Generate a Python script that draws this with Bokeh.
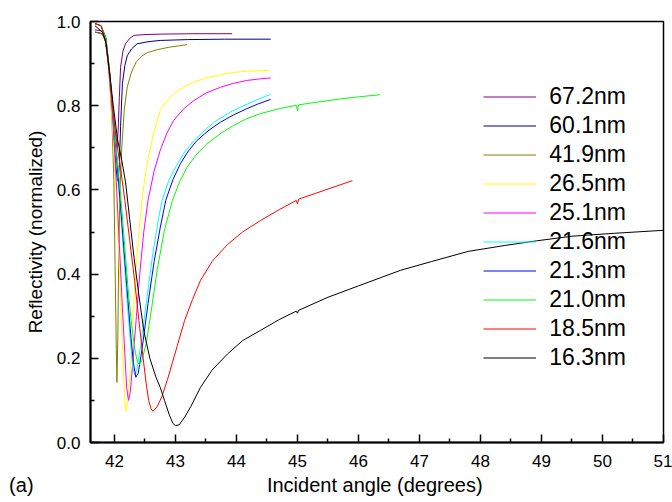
import math
from bokeh.plotting import figure
from bokeh.models import (FixedTicker, PrintfTickFormatter, Legend, LegendItem,
                          Range1d, Title)
from bokeh.embed import file_html
from bokeh.resources import INLINE

# ---------------- data ----------------
series_labels = ["67.2nm", "60.1nm", "41.9nm", "26.5nm", "25.1nm",
                 "21.6nm", "21.3nm", "21.0nm", "18.5nm", "16.3nm"]

x_672 = [41.68, 41.78, 41.84, 41.90, 41.96, 42.01, 42.04, 42.06, 42.08, 42.10,
         42.14, 42.18, 42.25, 42.32, 42.50, 42.75, 43.30, 43.93]
y_672 = [0.980, 0.978, 0.970, 0.910, 0.800, 0.720, 0.700, 0.740, 0.820, 0.891,
         0.930, 0.947, 0.960, 0.967, 0.969, 0.970, 0.971, 0.971]

x_601 = [41.68, 41.78, 41.84, 41.90, 41.95, 42.00, 42.04, 42.06, 42.08, 42.10,
         42.13, 42.17, 42.21, 42.28, 42.37, 42.55, 42.75, 43.20, 43.80, 44.56]
y_601 = [0.975, 0.972, 0.965, 0.900, 0.800, 0.700, 0.630, 0.620, 0.660, 0.750,
         0.852, 0.895, 0.919, 0.935, 0.947, 0.952, 0.955, 0.957, 0.958, 0.958]

x_419 = [41.68, 41.80, 41.86, 41.92, 41.96, 41.99, 42.01, 42.03, 42.04, 42.055,
         42.07, 42.09, 42.12, 42.16, 42.21, 42.28, 42.36, 42.45, 42.54, 42.70,
         42.90, 43.05, 43.19]
y_419 = [0.975, 0.970, 0.950, 0.870, 0.760, 0.620, 0.420, 0.220, 0.143, 0.250,
         0.450, 0.600, 0.700, 0.790, 0.845, 0.880, 0.905, 0.918, 0.926, 0.933,
         0.939, 0.942, 0.945]

x_265 = [41.68, 41.78, 41.86, 41.92, 41.98, 42.03, 42.08, 42.12, 42.15, 42.17,
         42.19, 42.22, 42.27, 42.34, 42.40, 42.45, 42.50, 42.55, 42.64, 42.75,
         42.86, 42.97, 43.13, 43.30, 43.50, 43.74, 43.95, 44.17, 44.56]
y_265 = [0.995, 0.990, 0.960, 0.860, 0.720, 0.580, 0.420, 0.270, 0.160, 0.100,
         0.074, 0.100, 0.200, 0.385, 0.500, 0.575, 0.630, 0.675, 0.733, 0.789,
         0.812, 0.828, 0.844, 0.856, 0.866, 0.874, 0.879, 0.882, 0.884]

x_251 = [41.68, 41.78, 41.86, 41.92, 41.98, 42.03, 42.08, 42.13, 42.17, 42.20,
         42.23, 42.26, 42.30, 42.36, 42.42, 42.48, 42.55, 42.65, 42.75, 42.86,
         42.97, 43.13, 43.30, 43.50, 43.74, 43.95, 44.17, 44.40, 44.56]
y_251 = [0.995, 0.990, 0.960, 0.870, 0.750, 0.620, 0.470, 0.320, 0.210, 0.130,
         0.100, 0.120, 0.190, 0.300, 0.410, 0.500, 0.575, 0.645, 0.694, 0.735,
         0.765, 0.792, 0.812, 0.830, 0.844, 0.853, 0.860, 0.864, 0.866]

x_216 = [41.68, 41.78, 41.86, 41.92, 41.98, 42.03, 42.09, 42.15, 42.21, 42.26,
         42.30, 42.33, 42.37, 42.43, 42.53, 42.63, 42.72, 42.78, 42.89, 43.00,
         43.15, 43.30, 43.50, 43.68, 43.90, 44.12, 44.35, 44.56]
y_216 = [0.995, 0.990, 0.960, 0.880, 0.780, 0.680, 0.570, 0.450, 0.330, 0.240,
         0.180, 0.160, 0.175, 0.230, 0.340, 0.450, 0.530, 0.575, 0.622, 0.654,
         0.690, 0.717, 0.745, 0.765, 0.785, 0.800, 0.815, 0.827]

x_213 = [41.68, 41.78, 41.86, 41.92, 41.98, 42.04, 42.10, 42.16, 42.22, 42.27,
         42.31, 42.35, 42.39, 42.45, 42.55, 42.65, 42.75, 42.84, 42.96, 43.08,
         43.20, 43.35, 43.55, 43.74, 43.95, 44.17, 44.35, 44.56]
y_213 = [0.995, 0.990, 0.960, 0.880, 0.780, 0.670, 0.560, 0.450, 0.340, 0.250,
         0.190, 0.155, 0.165, 0.220, 0.330, 0.430, 0.510, 0.575, 0.625, 0.662,
         0.690, 0.717, 0.742, 0.761, 0.778, 0.793, 0.804, 0.815]

x_210 = [41.68, 41.78, 41.86, 41.92, 41.98, 42.04, 42.10, 42.16, 42.22, 42.28,
         42.34, 42.38, 42.41, 42.45, 42.52, 42.60, 42.70, 42.82, 42.95, 43.07,
         43.19, 43.35, 43.52, 43.75, 43.95, 44.15, 44.39, 44.70, 44.98, 45.00,
         45.02, 45.30, 45.70, 46.00, 46.35]
y_210 = [0.995, 0.990, 0.960, 0.880, 0.780, 0.680, 0.590, 0.480, 0.370, 0.280,
         0.215, 0.190, 0.185, 0.195, 0.235, 0.310, 0.410, 0.505, 0.575, 0.620,
         0.654, 0.685, 0.710, 0.735, 0.753, 0.768, 0.781, 0.793, 0.801, 0.788,
         0.802, 0.808, 0.816, 0.821, 0.826]

x_185 = [41.68, 41.78, 41.86, 41.92, 41.98, 42.05, 42.11, 42.17, 42.25, 42.33,
         42.40, 42.47, 42.52, 42.56, 42.60, 42.63, 42.70, 42.78, 42.87, 42.95,
         43.03, 43.15, 43.28, 43.41, 43.60, 43.85, 44.10, 44.39, 44.70, 44.98,
         45.00, 45.02, 45.30, 45.60, 45.90]
y_185 = [0.995, 0.990, 0.950, 0.870, 0.780, 0.700, 0.640, 0.575, 0.480, 0.385,
         0.290, 0.200, 0.140, 0.100, 0.080, 0.074, 0.085, 0.110, 0.150, 0.190,
         0.230, 0.290, 0.340, 0.385, 0.430, 0.470, 0.500, 0.527, 0.553, 0.575,
         0.567, 0.578, 0.592, 0.607, 0.622]

x_163 = [41.68, 41.80, 41.86, 41.92, 41.98, 42.05, 42.12, 42.18, 42.25, 42.32,
         42.40, 42.48, 42.58, 42.68, 42.75, 42.82, 42.90, 42.96, 43.00, 43.06,
         43.15, 43.25, 43.41, 43.60, 43.85, 44.10, 44.39, 44.70, 44.98, 45.00,
         45.02, 45.50, 46.00, 46.69, 47.20, 47.80, 48.40, 48.92, 49.50, 50.20,
         51.00]
y_163 = [0.990, 0.975, 0.950, 0.880, 0.800, 0.720, 0.670, 0.620, 0.530, 0.440,
         0.350, 0.266, 0.200, 0.155, 0.131, 0.100, 0.065, 0.045, 0.040, 0.042,
         0.060, 0.085, 0.131, 0.172, 0.210, 0.242, 0.266, 0.292, 0.312, 0.307,
         0.314, 0.345, 0.372, 0.409, 0.430, 0.454, 0.468, 0.479, 0.490, 0.497,
         0.504]

x_tick_values = [42, 43, 44, 45, 46, 47, 48, 49, 50, 51]
x_minor_values = [42.5, 43.5, 44.5, 45.5, 46.5, 47.5, 48.5, 49.5, 50.5]
y_tick_values = [0.0, 0.2, 0.4, 0.6, 0.8, 1.0]
y_minor_values = [0.1, 0.3, 0.5, 0.7, 0.9]

x_title = "Incident angle (degrees)"
y_title = "Reflectivity (normalized)"
panel_tag = "(a)"

# ---------------- styles ----------------
line_colors = ["#800080", "#000080", "#808000", "#ffff00", "#ff00ff",
               "#00ffff", "#0000ff", "#00ff00", "#ff0000", "#000000"]
FONT = "Liberation Sans"

xs_all = [x_672, x_601, x_419, x_265, x_251, x_216, x_213, x_210, x_185, x_163]
ys_all = [y_672, y_601, y_419, y_265, y_251, y_216, y_213, y_210, y_185, y_163]

X0, X1 = 41.607, 51.0
p = figure(width=672, height=502,
           x_range=Range1d(X0, X1), y_range=Range1d(0.0, 1.0),
           output_backend="svg", toolbar_location=None,
           min_border_left=90, min_border_right=9,
           min_border_top=21, min_border_bottom=60)

p.xgrid.visible = False
p.ygrid.visible = False
p.outline_line_color = "black"
p.outline_line_width = 1.5
p.outline_line_alpha = 1.0
p.background_fill_color = "white"
p.border_fill_color = "white"

for ax in (p.xaxis[0], p.yaxis[0]):
    ax.axis_line_width = 2
    ax.axis_line_color = "black"
    ax.major_tick_in = 8
    ax.major_tick_out = 0
    ax.minor_tick_in = 4
    ax.minor_tick_out = 0
    ax.major_tick_line_width = 1.5
    ax.minor_tick_line_width = 1.5
    ax.major_tick_line_color = "black"
    ax.minor_tick_line_color = "black"
    ax.major_label_text_font = FONT
    ax.major_label_text_font_size = "17px"
    ax.major_label_text_color = "black"
    ax.axis_label_text_font = FONT
    ax.axis_label_text_font_style = "normal"
    ax.axis_label_text_color = "black"

xa = p.xaxis[0]
xa.ticker = FixedTicker(ticks=x_tick_values, minor_ticks=x_minor_values)
xa.formatter = PrintfTickFormatter(format="%d")
xa.major_label_standoff = 12

ya = p.yaxis[0]
ya.ticker = FixedTicker(ticks=y_tick_values, minor_ticks=y_minor_values)
ya.formatter = PrintfTickFormatter(format="%.1f")
ya.major_label_standoff = 10
ya.axis_label = y_title
ya.axis_label_text_font_size = "19px"
ya.axis_label_standoff = 8

# Bottom caption line: panel tag "(a)" at the far left and the x-axis title
# centred under the frame (annotations inside the plot area are clipped,
# so both share one caption line below the axis).
NB = "\u00a0"
caption = panel_tag + NB * 42 + x_title
p.add_layout(Title(text=caption, align="left", offset=-81.4, standoff=4,
                   text_font=FONT, text_font_size="20px",
                   text_font_style="normal", text_color="black"), "below")

items = []
for xs, ys, col, lab in zip(xs_all, ys_all, line_colors, series_labels):
    r = p.line(xs, ys, line_color=col, line_width=1)
    items.append(LegendItem(label=lab, renderers=[r]))

legend = Legend(items=items, location=(393.3, 69.8),
                glyph_width=53, glyph_height=29, label_height=29,
                spacing=0, padding=0, margin=0, label_standoff=13,
                label_text_font=FONT, label_text_font_size="23px",
                label_text_color="black",
                border_line_alpha=0, background_fill_alpha=0)
p.add_layout(legend)

open("out.html", "w").write(file_html(p, INLINE))
